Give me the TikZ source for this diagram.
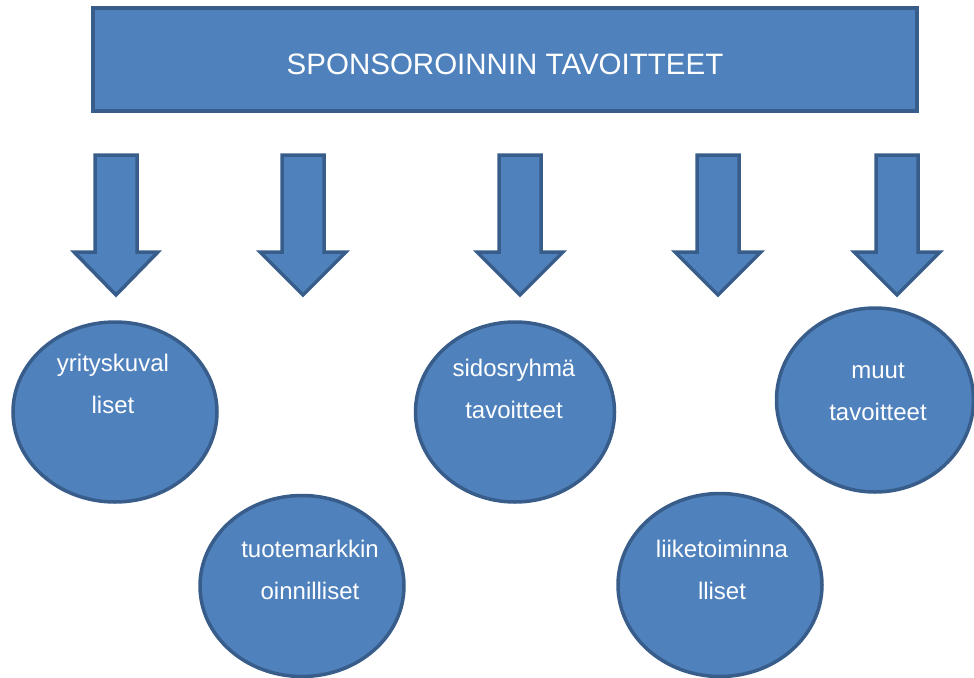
\documentclass[tikz,border=0pt]{standalone}
\usepackage{fontspec}
\setmainfont{Liberation Sans}
\usetikzlibrary{shapes.geometric}

\definecolor{goalfill}{RGB}{79,129,189}
\definecolor{goalline}{RGB}{56,93,138}

\tikzset{
  shapestyle/.style={fill=goalfill, draw=goalline, line width=3.5pt, line join=miter},
  goal/.style={shapestyle, ellipse, inner sep=0pt},
  goaltext/.style={text=white, align=center, inner sep=0pt,
    font=\fontsize{24}{42}\selectfont},
}

\begin{document}
\begin{tikzpicture}[x=1pt,y=-1pt]
\useasboundingbox (0,0) rectangle (974,677);
% title box
\node (title) [shapestyle, minimum width=824pt, minimum height=103pt, inner sep=0pt,
  text=white, text height=29.5pt, text depth=0pt,
  font=\fontsize{29.5}{32}\selectfont] at (505,59.5) {SPONSOROINNIN TAVOITTEET};
% block arrows
\draw [shapestyle] (95,155) -- (137,155) -- (137,252) -- (158,252) -- (116,295) -- (74,252) -- (95,252) -- cycle;
\draw [shapestyle] (282,155) -- (324,155) -- (324,252) -- (346,252) -- (303,295) -- (260,252) -- (282,252) -- cycle;
\draw [shapestyle] (499,155) -- (541,155) -- (541,252) -- (563,252) -- (520,295) -- (477,252) -- (499,252) -- cycle;
\draw [shapestyle] (697,155) -- (739,155) -- (739,252) -- (761,252) -- (718,295) -- (675,252) -- (697,252) -- cycle;
\draw [shapestyle] (876,155) -- (918,155) -- (918,252) -- (940,252) -- (897,295) -- (854,252) -- (876,252) -- cycle;
% goals
\node (kuva) [goal, minimum width=204pt, minimum height=180pt] at (115,412) {};
\node (kuvatext) [goaltext] at (113,384) {yrityskuval\\liset};
\node (merkki) [goal, minimum width=204pt, minimum height=181pt] at (302,586) {};
\node (merkkitext) [goaltext] at (310,570) {tuotemarkkin\\oinnilliset};
\node (sidos) [goal, minimum width=199pt, minimum height=180pt] at (515,412) {};
\node (sidostext) [goaltext] at (514,389) {sidosryhmä\\tavoitteet};
\node (liike) [goal, minimum width=204pt, minimum height=183pt] at (720,585) {};
\node (liiketext) [goaltext] at (722,570) {liiketoiminna\\lliset};
\node (muut) [goal, minimum width=197pt, minimum height=184pt] at (875,400) {};
\node (muuttext) [goaltext] at (878,392) {muut\\tavoitteet};
\end{tikzpicture}
\end{document}
